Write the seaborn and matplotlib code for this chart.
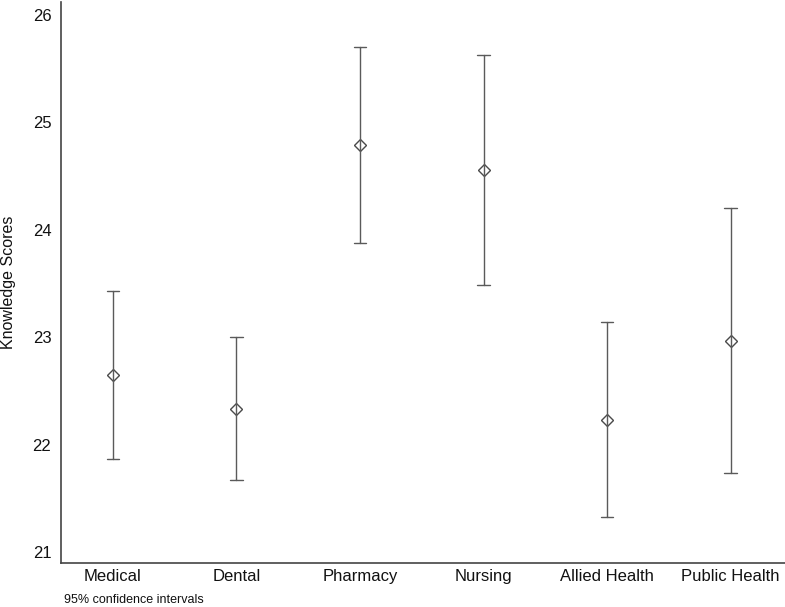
import numpy as np
import pandas as pd
import seaborn as sns
import matplotlib.pyplot as plt

# values (mean and 95% CI bounds)
groups = ['Medical', 'Dental', 'Pharmacy', 'Nursing', 'Allied Health', 'Public Health']
means = [22.65, 22.33, 24.79, 24.56, 22.23, 22.97]
ci_lower = [21.87, 21.67, 23.88, 23.49, 21.33, 21.74]
ci_upper = [23.43, 23.00, 25.70, 25.63, 23.14, 24.20]

# long table: one row per bound, median gives the mean, min/max gives the CI
rows = []
for g, lo, m, hi in zip(groups, ci_lower, means, ci_upper):
    for v in (lo, m, hi):
        rows.append({'Group': g, 'Score': v})
df = pd.DataFrame(rows)

sns.set_style('white')
plt.rcParams['font.family'] = ['Liberation Sans', 'DejaVu Sans']

fig = plt.figure(figsize=(7.85, 6.07), dpi=100)
ax = fig.add_axes([61 / 785, 44 / 607, 1 - 61 / 785, (563 - 2) / 607])

sns.pointplot(data=df, x='Group', y='Score', order=groups,
              estimator='median', errorbar=lambda x: (x.min(), x.max()),
              markers='D', linestyles='none', capsize=0.1,
              color='#5a5a5a', err_kws={'linewidth': 1.0},
              markersize=6.5, markerfacecolor='none',
              markeredgecolor='#4a4a4a', markeredgewidth=1.0, ax=ax)

ax.set_ylim(20.90, 26.12)
ax.set_xlim(-0.42, 5.44)
ax.set_yticks([21, 22, 23, 24, 25, 26])
ax.tick_params(axis='both', length=0, labelsize=12, colors='#111111')
ax.tick_params(axis='y', pad=7)
ax.tick_params(axis='x', pad=4)
ax.set_xlabel('')
ax.set_ylabel('')

sns.despine(ax=ax)
for s in ['left', 'bottom']:
    ax.spines[s].set_color('#444444')
    ax.spines[s].set_linewidth(1.2)

fig.text(8.5 / 785, 1 - 282 / 607, 'Knowledge Scores', fontsize=11.5,
         rotation=90, va='center', ha='center', color='#111111')
fig.text(64 / 785, 1 - 600 / 607, '95% confidence intervals', fontsize=9,
         va='center', ha='left', color='#111111')

plt.savefig('out.png', dpi=100)
